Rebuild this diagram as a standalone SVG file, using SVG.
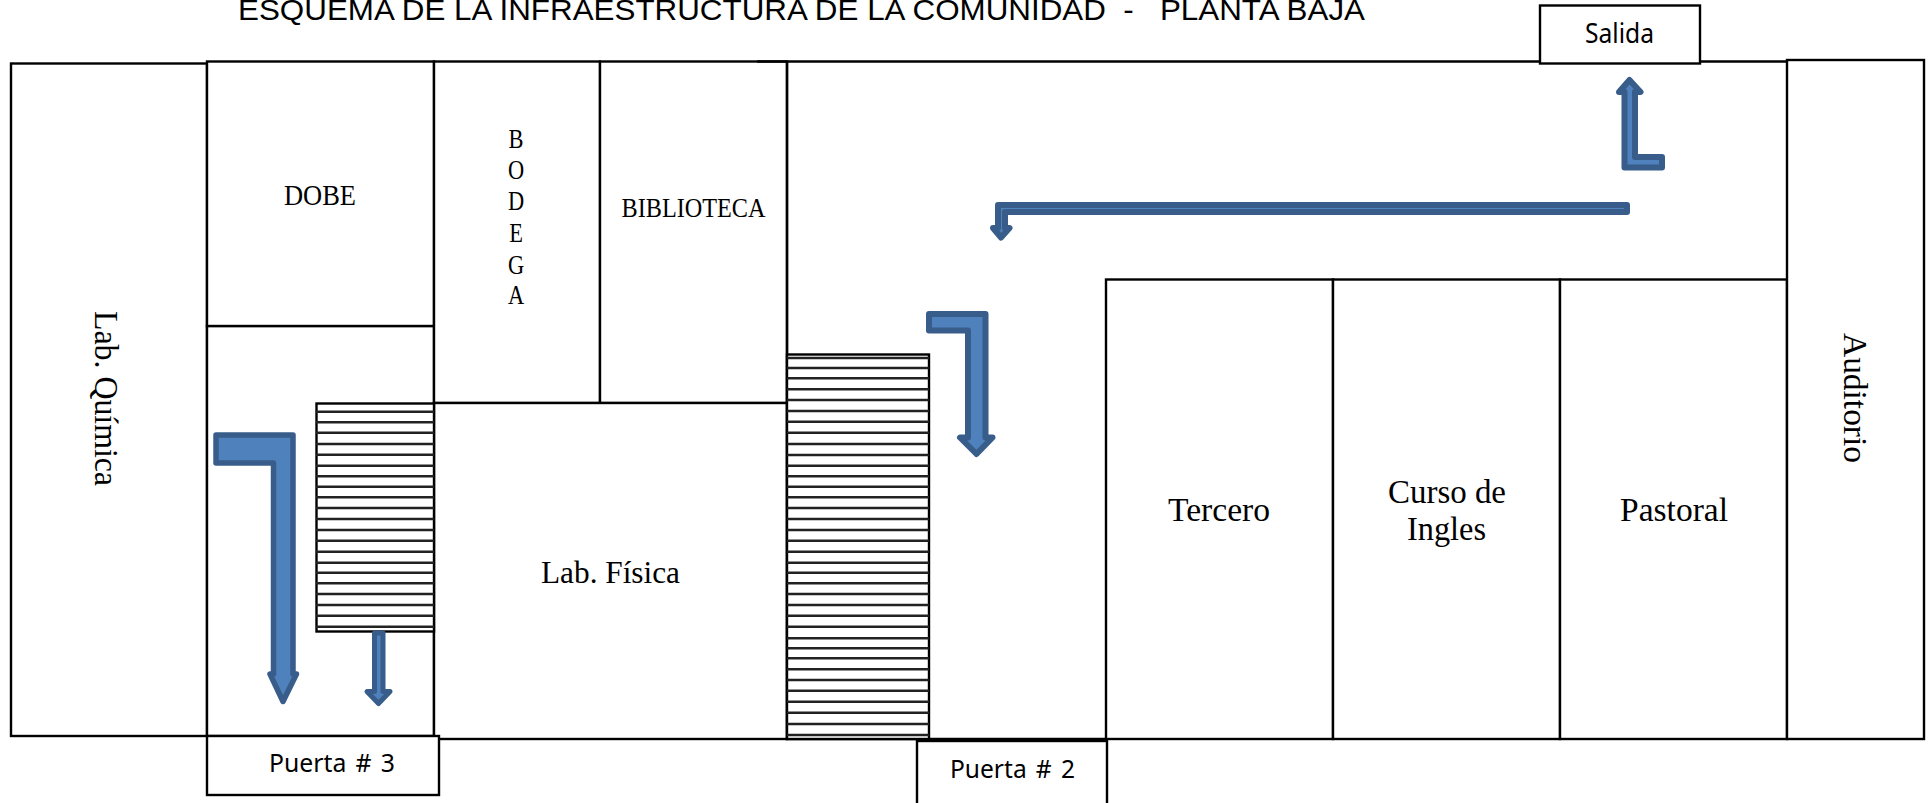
<svg xmlns="http://www.w3.org/2000/svg" width="1931" height="803" viewBox="0 0 1931 803">
<style>
.room{fill:#fff;stroke:#000;stroke-width:2.4}
.line{fill:none;stroke:#000;stroke-width:2.4}
.stair{fill:none;stroke:#222;stroke-width:2.6}
.arrow{fill:#4f81bd;stroke:#385d8a;stroke-linejoin:round}
.s{font-family:"Liberation Serif","DejaVu Serif",serif;fill:#000;text-anchor:middle}
.d{font-family:"Noto Sans","Liberation Sans",sans-serif;fill:#000;text-anchor:middle;word-spacing:3px}
</style>
<rect width="1931" height="803" fill="#fff"/>
<text id="title" x="238" y="20" xml:space="preserve" style="font-family:'Liberation Sans',Arial,sans-serif;font-size:29px" textLength="1127" lengthAdjust="spacingAndGlyphs">ESQUEMA DE LA INFRAESTRUCTURA DE LA COMUNIDAD  -   PLANTA BAJA</text>
<g id="lab-quimica"><rect class="room" x="11" y="63.5" width="196" height="672.5"/><text class="s" transform="translate(95 398.500) rotate(90)" font-size="34" textLength="175" lengthAdjust="spacingAndGlyphs">Lab. Química</text></g>
<g id="pasillo"><rect class="room" x="207" y="326" width="227" height="410"/></g>
<g id="dobe"><rect class="room" x="207" y="61.5" width="227" height="264.5"/><text class="s" x="320" y="205" font-size="30" textLength="72" lengthAdjust="spacingAndGlyphs">DOBE</text></g>
<g id="bodega"><rect class="room" x="434" y="61.5" width="166" height="341.5"/>
<text class="s" font-size="27" transform="translate(516 0) scale(.83 1)"><tspan x="0" y="148">B</tspan><tspan x="0" y="179">O</tspan><tspan x="0" y="210">D</tspan><tspan x="0" y="242">E</tspan><tspan x="0" y="274">G</tspan><tspan x="0" y="304">A</tspan></text></g>
<g id="biblioteca"><rect class="room" x="600" y="61.5" width="187" height="341.5"/><text class="s" x="693.500" y="217" font-size="27" textLength="144" lengthAdjust="spacingAndGlyphs">BIBLIOTECA</text></g>
<g id="lab-fisica"><rect class="room" x="434" y="403" width="353" height="336"/><text class="s" x="610.500" y="583" font-size="32" textLength="139" lengthAdjust="spacingAndGlyphs">Lab. Física</text></g>
<g id="corredor"><path class="line" d="M757 61.5H1787M787 61.5V739H1106"/></g>
<g id="tercero"><rect class="room" x="1106" y="279.500" width="227" height="459.500"/><text class="s" x="1219" y="521" font-size="33" textLength="102" lengthAdjust="spacingAndGlyphs">Tercero</text></g>
<g id="curso"><rect class="room" x="1333" y="279.500" width="227" height="459.500"/><text class="s" x="1447" y="503" font-size="33" textLength="118" lengthAdjust="spacingAndGlyphs">Curso de</text><text class="s" x="1446.500" y="540" font-size="33" textLength="79" lengthAdjust="spacingAndGlyphs">Ingles</text></g>
<g id="pastoral"><rect class="room" x="1560" y="279.500" width="227" height="459.500"/><text class="s" x="1674" y="521" font-size="33" textLength="108" lengthAdjust="spacingAndGlyphs">Pastoral</text></g>
<g id="auditorio"><rect class="room" x="1787" y="60" width="137" height="679"/><text class="s" transform="translate(1844 398) rotate(90)" font-size="34" textLength="130" lengthAdjust="spacingAndGlyphs">Auditorio</text></g>
<g id="escalera-1"><rect x="316.500" y="403.500" width="117.500" height="228" fill="#fff" stroke="#000" stroke-width="2.400"/>
<path class="stair" d="M316 411.700H434M316 422.300H434M316 432.700H434M316 444H434M316 454.700H434M316 465.700H434M316 476.300H434M316 486.700H434M316 497.300H434M316 508H434M316 519H434M316 530H434M316 540.700H434M316 551.700H434M316 562.700H434M316 572.700H434M316 583.300H434M316 594H434M316 605H434M316 615.700H434M316 626.700H434"/></g>
<g id="escalera-2"><rect x="787" y="354.500" width="142" height="384.500" fill="#fff" stroke="#000" stroke-width="2.400"/>
<path class="stair" d="M787 358H929M787 368H929M787 378.300H929M787 389.300H929M787 400H929M787 411H929M787 421.700H929M787 432.700H929M787 444H929M787 455H929M787 465.700H929M787 476.300H929M787 486.700H929M787 497.300H929M787 508H929M787 519H929M787 530H929M787 540.700H929M787 551.700H929M787 562.700H929M787 572.700H929M787 583.300H929M787 594H929M787 605H929M787 615.700H929M787 626.700H929M787 638.300H929M787 648.300H929M787 658.300H929M787 669.300H929M787 680H929M787 690.700H929M787 701.700H929M787 712.700H929M787 724H929M787 735H929"/></g>
<g id="puerta-3"><rect class="room" x="207" y="736" width="232" height="59"/><text class="d" x="332" y="772" font-size="26" textLength="126" lengthAdjust="spacingAndGlyphs">Puerta # 3</text></g>
<g id="puerta-2"><rect class="room" x="917" y="741" width="190" height="70"/><text class="d" x="1012.500" y="778" font-size="26" textLength="125" lengthAdjust="spacingAndGlyphs">Puerta # 2</text></g>
<g id="salida"><rect class="room" x="1540" y="5.500" width="160" height="58"/><text class="d" x="1619.500" y="43" font-size="27" textLength="69" lengthAdjust="spacingAndGlyphs">Salida</text></g>
<g id="connectors">
<path class="arrow" stroke-width="5.500" d="M216 435H293V674H296.500L283 701.500L270 674H273.500V463H216Z"/>
<path class="arrow" stroke-width="5" d="M374.500 633H383V691.500H390L378.500 703.500L367 691.500H374.500Z"/>
<path class="arrow" stroke-width="6" d="M929 314H985.500V437.500H992.500L976.500 454L960 437.500H968V330.500H929Z"/>
<path class="arrow" stroke-width="6" d="M1627 205H998V228H993L1001 237.500L1009.500 228H1005V212H1627Z"/>
<path class="arrow" stroke-width="6" d="M1662 157V167.500H1624.500V92H1619L1629.500 80L1640.500 92H1635V157Z"/>
</g>
</svg>
